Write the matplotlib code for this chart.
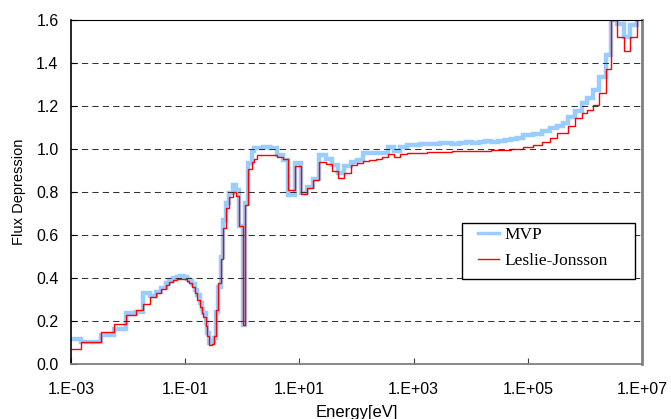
import numpy as np
import matplotlib
matplotlib.use('Agg')
import matplotlib.pyplot as plt
from matplotlib.patches import Rectangle
from matplotlib.lines import Line2D
from matplotlib.ticker import NullLocator

# group boundaries, log10(E [eV])
log_edges = [
    -3.000, -2.830, -2.480, -2.242, -2.037, -1.867, -1.744, -1.616, -1.511, -1.429,
    -1.336, -1.278, -1.214, -1.149, -1.091, -1.033, -0.974, -0.928, -0.876, -0.828,
    -0.788, -0.746, -0.711, -0.683, -0.641, -0.613, -0.578, -0.536, -0.496, -0.461,
    -0.420, -0.378, -0.343, -0.285, -0.228, -0.168, -0.110, -0.053, 0.007, 0.047,
    0.105, 0.165, 0.205, 0.263, 0.368, 0.485, 0.602, 0.708, 0.806, 0.923,
    1.028, 1.128, 1.243, 1.349, 1.466, 1.566, 1.671, 1.781, 1.898, 2.014,
    2.119, 2.224, 2.341, 2.441, 2.557, 2.662, 2.762, 2.879, 2.995, 3.112,
    3.226, 3.340, 3.454, 3.567, 3.681, 3.795, 3.909, 4.023, 4.137, 4.250,
    4.364, 4.478, 4.592, 4.706, 4.811, 4.921, 5.096, 5.243, 5.389, 5.506,
    5.611, 5.709, 5.827, 5.944, 6.042, 6.147, 6.252, 6.369, 6.462, 6.567,
    6.690, 6.790, 6.907, 7.000,
]

mvp = [
    0.115, 0.104, 0.135, 0.163, 0.237, 0.240, 0.330, 0.315, 0.335, 0.355,
    0.375, 0.390, 0.400, 0.405, 0.410, 0.405, 0.395, 0.385, 0.370, 0.345,
    0.320, 0.285, 0.255, 0.235, 0.190, 0.145, 0.100, 0.105, 0.120, 0.240,
    0.360, 0.500, 0.670, 0.747, 0.795, 0.833, 0.810, 0.640, 0.180, 0.750,
    0.936, 0.990, 1.003, 1.003, 1.010, 1.005, 0.972, 0.950, 0.786, 0.933,
    0.795, 0.825, 0.860, 0.972, 0.955, 0.925, 0.890, 0.920, 0.940, 0.950,
    0.980, 0.980, 0.980, 0.980, 1.010, 0.990, 1.010, 1.020, 1.020, 1.022,
    1.025, 1.022, 1.027, 1.028, 1.025, 1.030, 1.031, 1.030, 1.033, 1.035,
    1.033, 1.037, 1.040, 1.045, 1.050, 1.063, 1.070, 1.085, 1.096, 1.107,
    1.120, 1.147, 1.178, 1.215, 1.235, 1.274, 1.334, 1.437, 1.600, 1.580,
    1.520, 1.577, 1.750,
]

leslie_jonsson = [
    0.068, 0.104, 0.147, 0.186, 0.228, 0.251, 0.279, 0.310, 0.332, 0.349,
    0.369, 0.383, 0.390, 0.397, 0.397, 0.395, 0.388, 0.375, 0.360, 0.330,
    0.300, 0.265, 0.235, 0.220, 0.176, 0.130, 0.088, 0.093, 0.130, 0.250,
    0.375, 0.490, 0.633, 0.725, 0.777, 0.800, 0.780, 0.640, 0.180, 0.740,
    0.905, 0.940, 0.955, 0.970, 0.972, 0.972, 0.965, 0.955, 0.810, 0.920,
    0.790, 0.817, 0.858, 0.940, 0.930, 0.900, 0.863, 0.887, 0.925, 0.935,
    0.946, 0.950, 0.955, 0.961, 0.975, 0.961, 0.977, 0.980, 0.981, 0.982,
    0.985, 0.986, 0.986, 0.988, 0.989, 0.990, 0.990, 0.992, 0.993, 0.993,
    0.995, 0.996, 0.997, 0.998, 1.000, 1.010, 1.020, 1.034, 1.050, 1.073,
    1.075, 1.107, 1.143, 1.166, 1.180, 1.205, 1.262, 1.370, 1.600, 1.520,
    1.456, 1.520, 1.750,
]

xtick_vals = [1e-3, 1e-1, 1e1, 1e3, 1e5, 1e7]
xtick_labels = ['1.E-03', '1.E-01', '1.E+01', '1.E+03', '1.E+05', '1.E+07']
ytick_vals = [0.0, 0.2, 0.4, 0.6, 0.8, 1.0, 1.2, 1.4, 1.6]

MVP_COLOR = '#99CCFF'
LJ_COLOR = '#FF0000'

plt.rcParams['font.family'] = ['Liberation Sans', 'DejaVu Sans']

W, H = 671, 419
fig = plt.figure(figsize=(W / 100, H / 100), dpi=100)
ax = fig.add_axes([71 / W, 1 - 364 / H, (642 - 71) / W, (364 - 20) / H])

edges = 10.0 ** np.array(log_edges)
ax.stairs(mvp, edges, baseline=None, color=MVP_COLOR, lw=3.2)
ax.stairs(leslie_jonsson, edges, baseline=None, color=LJ_COLOR, lw=1)

ax.set_xscale('log')
ax.set_xlim(1e-3, 1e7)
ax.set_ylim(0, 1.6)
ax.set_xticks(xtick_vals)
ax.set_xticklabels(xtick_labels)
ax.xaxis.set_minor_locator(NullLocator())
ax.set_yticks(ytick_vals)
ax.set_yticklabels(['%.1f' % v for v in ytick_vals])
ax.tick_params(axis='x', direction='in', length=4, pad=13, labelsize=11.5, color='#404040')
ax.tick_params(axis='y', direction='in', length=4, pad=9, labelsize=11.5)

ax.yaxis.grid(True, linestyle=(0, (6, 4)), color='#333333', lw=0.75)

ax.spines['left'].set_color('black')
ax.spines['left'].set_linewidth(1.2)
ax.spines['top'].set_color('black')
ax.spines['top'].set_linewidth(0.8)
ax.spines['bottom'].set_color('#808080')
ax.spines['bottom'].set_linewidth(1.3)
ax.spines['right'].set_color('#808080')
ax.spines['right'].set_linewidth(2)

ax.set_xlabel('Energy[eV]', fontsize=12, labelpad=6)
ax.set_ylabel('Flux Depression', fontsize=10.5, labelpad=7)

# legend box drawn separately so the padding matches
fig.patches.append(Rectangle((462 / W, 1 - 279 / H), 173 / W, 56 / H, transform=fig.transFigure,
                             facecolor='white', edgecolor='black', lw=1, zorder=3))
handles = [Line2D([], [], color=MVP_COLOR, lw=2.5), Line2D([], [], color=LJ_COLOR, lw=1)]
fig.legend(handles, ['MVP', 'Leslie-Jonsson'], loc='upper left',
           bbox_to_anchor=(478 / W, 1 - 227 / H), frameon=False,
           borderpad=0, borderaxespad=0, handlelength=1.2, handletextpad=0.3,
           labelspacing=0.55, prop={'family': 'Liberation Serif', 'size': 12.5})

fig.savefig('out.png', dpi=100)
